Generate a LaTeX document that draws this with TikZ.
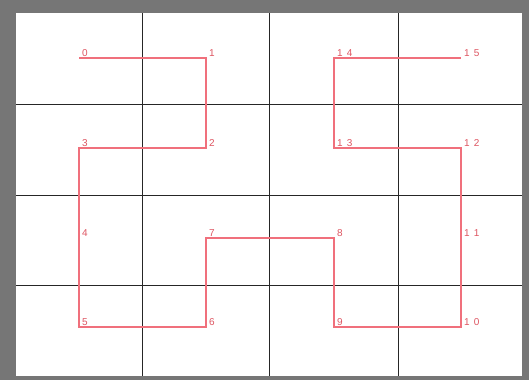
\documentclass[tikz,border=0pt]{standalone}
\usepackage{fontspec}
\setmainfont{Liberation Sans}
\usetikzlibrary{positioning}

\definecolor{frame}{RGB}{118,118,118}
\definecolor{curve}{RGB}{240,112,124}
\definecolor{numcol}{RGB}{222,86,98}

\begin{document}
\begin{tikzpicture}[
		x=1pt, y=-1pt,
		cell/.style={draw=black!85, line width=1pt},
		path/.style={draw=curve, line width=1.2pt},
		num/.style={anchor=base west, inner sep=0pt, text=numcol, font=\fontsize{10}{11}\selectfont, xshift=3pt, yshift=2pt}
	]
	\fill[frame] (0,0) rectangle (529,380);
	\fill[white] (16,13) rectangle (522,376);
	\useasboundingbox (0,0) rectangle (529,380);

	% grid
	\foreach \gx in {142,269,398}
		\draw[cell] (\gx,13) -- (\gx,376);
	\foreach \gy in {104,195,285}
		\draw[cell] (16,\gy) -- (522,\gy);

	% curve points
	\coordinate (p0) at (79,58);
	\coordinate (p1) at (206,58);
	\coordinate (p2) at (206,148);
	\coordinate (p3) at (79,148);
	\coordinate (p4) at (79,238);
	\coordinate (p5) at (79,327);
	\coordinate (p6) at (206,327);
	\coordinate (p7) at (206,238);
	\coordinate (p8) at (334,238);
	\coordinate (p9) at (334,327);
	\coordinate (p10) at (461,327);
	\coordinate (p11) at (461,238);
	\coordinate (p12) at (461,148);
	\coordinate (p13) at (334,148);
	\coordinate (p14) at (334,58);
	\coordinate (p15) at (461,58);

	\draw[path] (p0) -- (p1) -- (p2) -- (p3) -- (p4) -- (p5) -- (p6) -- (p7)
		-- (p8) -- (p9) -- (p10) -- (p11) -- (p12) -- (p13) -- (p14) -- (p15);

	% labels
	\foreach \i in {0,...,9}
		\node[num] (l\i) at (p\i) {\i};
	\node[num] (l10) at (p10) {1\hspace{4pt}0};
	\node[num] (l11) at (p11) {1\hspace{4pt}1};
	\node[num] (l12) at (p12) {1\hspace{4pt}2};
	\node[num] (l13) at (p13) {1\hspace{4pt}3};
	\node[num] (l14) at (p14) {1\hspace{4pt}4};
	\node[num] (l15) at (p15) {1\hspace{4pt}5};
\end{tikzpicture}
\end{document}
